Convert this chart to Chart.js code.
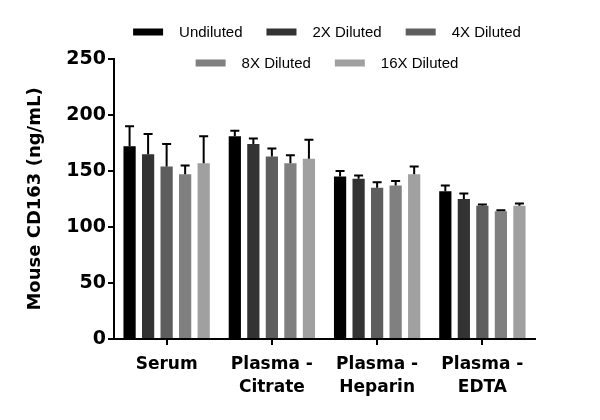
<!DOCTYPE html>
<html>
<head>
<meta charset="utf-8">
<style>
  html, body { margin: 0; padding: 0; background: #fff; }
  #wrap { width: 600px; height: 420px; }
</style>
<script src="https://cdn.jsdelivr.net/npm/chart.js@4"></script>
</head>
<body>
<div id="wrap"><canvas id="chart" width="600" height="420"></canvas></div>
<script>
  // sample types on the x axis
  const categories = [["Serum"], ["Plasma -", "Citrate"], ["Plasma -", "Heparin"], ["Plasma -", "EDTA"]];
  const seriesNames = ["Undiluted", "2X Diluted", "4X Diluted", "8X Diluted", "16X Diluted"];

  // mean values per dilution (ng/mL)
  const undiluted = [172, 181, 145, 132];
  const diluted2x = [165, 174, 143, 125];
  const diluted4x = [154, 163, 135, 119];
  const diluted8x = [147, 157, 137, 114];
  const diluted16x = [157, 161, 147, 119];

  // upper error (SD)
  const errUndiluted = [18, 5, 5, 5];
  const err2x = [18, 5, 3, 5];
  const err4x = [20, 7, 5, 1];
  const err8x = [8, 7, 4, 1];
  const err16x = [24, 17, 7, 2];

  const yTicks = [0, 50, 100, 150, 200, 250];

  const colors = ["#000000", "#333333", "#5e5e5e", "#808080", "#a0a0a0"];
  const values = [undiluted, diluted2x, diluted4x, diluted8x, diluted16x];
  const errors = [errUndiluted, err2x, err4x, err8x, err16x];

  const datasets = seriesNames.map(function (name, i) {
    return {
      label: name,
      data: values[i],
      errors: errors[i],
      backgroundColor: colors[i],
      borderWidth: 0,
      categoryPercentage: 0.88,
      barPercentage: 0.66
    };
  });

  // one-sided error bars with a cap
  const errorBars = {
    id: "errorBars",
    afterDatasetsDraw(chart) {
      const ctx = chart.ctx;
      const y = chart.scales.y;
      ctx.save();
      ctx.strokeStyle = "#000";
      ctx.lineWidth = 2;
      chart.data.datasets.forEach(function (ds, di) {
        const meta = chart.getDatasetMeta(di);
        meta.data.forEach(function (bar, j) {
          const top = y.getPixelForValue(ds.data[j] + ds.errors[j]);
          ctx.beginPath();
          ctx.moveTo(bar.x, bar.y);
          ctx.lineTo(bar.x, top);
          ctx.moveTo(bar.x - 4.5, top);
          ctx.lineTo(bar.x + 4.5, top);
          ctx.stroke();
        });
      });
      ctx.restore();
    }
  };

  // two-row legend drawn over the top margin
  const legendRows = [[0, 1, 2], [3, 4]];
  const twoRowLegend = {
    id: "twoRowLegend",
    afterDraw(chart) {
      const ctx = chart.ctx;
      const boxW = 30, boxH = 7, gap = 16, spacing = 24;
      const rowY = [32, 63];
      ctx.save();
      ctx.font = "15px 'Liberation Sans', Arial, sans-serif";
      ctx.textBaseline = "middle";
      legendRows.forEach(function (row, r) {
        let total = 0;
        row.forEach(function (di, k) {
          total += boxW + gap + ctx.measureText(chart.data.datasets[di].label).width;
          if (k > 0) total += spacing;
        });
        let x = 327 - total / 2;
        row.forEach(function (di) {
          const ds = chart.data.datasets[di];
          ctx.fillStyle = ds.backgroundColor;
          ctx.fillRect(x, rowY[r] - boxH / 2, boxW, boxH);
          x += boxW + gap;
          ctx.fillStyle = "#000";
          ctx.fillText(ds.label, x, rowY[r] + 1);
          x += ctx.measureText(ds.label).width + spacing;
        });
      });
      ctx.restore();
    }
  };

  new Chart(document.getElementById("chart"), {
    type: "bar",
    data: { labels: categories, datasets: datasets },
    plugins: [errorBars, twoRowLegend],
    options: {
      responsive: false,
      animation: false,
      layout: { padding: { top: 59, right: 65, left: 0, bottom: 0 } },
      plugins: { legend: { display: false }, tooltip: { enabled: false } },
      scales: {
        x: {
          afterFit(scale) { scale.height = 81; },
          border: { color: "#000", width: 2 },
          grid: { display: true, offset: false, drawOnChartArea: false, drawTicks: true, tickLength: 6, color: "#000", lineWidth: 2 },
          ticks: {
            color: "#000",
            padding: 8,
            maxRotation: 0,
            autoSkip: false,
            font: { family: "'DejaVu Sans', sans-serif", size: 17, weight: "bold", lineHeight: 1.35 }
          }
        },
        y: {
          min: 0,
          max: 250,
          afterFit(scale) { scale.width = 114; },
          afterBuildTicks(scale) { scale.ticks = yTicks.map(function (v) { return { value: v }; }); },
          border: { color: "#000", width: 2 },
          grid: { display: true, drawOnChartArea: false, drawTicks: true, tickLength: 6, color: "#000", lineWidth: 2 },
          ticks: {
            color: "#000",
            padding: 2,
            font: { family: "'DejaVu Sans', sans-serif", size: 19, weight: "bold" }
          },
          title: {
            display: true,
            text: "Mouse CD163 (ng/mL)",
            color: "#000",
            padding: { top: 25, bottom: 0 },
            font: { family: "'DejaVu Sans', sans-serif", size: 18, weight: "bold" }
          }
        }
      }
    }
  });
</script>
</body>
</html>
